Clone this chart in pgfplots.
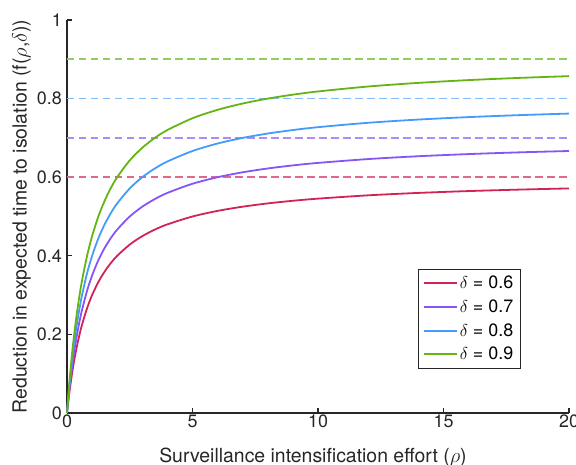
\documentclass[border=0pt]{standalone}
\usepackage{pgfplots}
\pgfplotsset{compat=1.18}
\usepackage{pgfplotstable}
\usepackage{fontspec}
\setmainfont{TeX Gyre Heros}
\definecolor{cRed}{RGB}{210,35,85}
\definecolor{cPur}{RGB}{135,85,245}
\definecolor{cBlu}{RGB}{70,155,250}
\definecolor{cGrn}{RGB}{100,180,20}
\definecolor{axgray}{RGB}{38,38,38}
\pgfplotstableread{
rho d6 d7 d8 d9
0 0 0 0 0
0.05 0.02857 0.03333 0.03810 0.04286
0.1 0.05455 0.06364 0.07273 0.08182
0.2 0.10000 0.11667 0.13333 0.15000
0.3 0.13846 0.16154 0.18462 0.20769
0.4 0.17143 0.20000 0.22857 0.25714
0.5 0.20000 0.23333 0.26667 0.30000
0.6 0.22500 0.26250 0.30000 0.33750
0.8 0.26667 0.31111 0.35556 0.40000
1 0.30000 0.35000 0.40000 0.45000
1.25 0.33333 0.38889 0.44444 0.50000
1.5 0.36000 0.42000 0.48000 0.54000
1.75 0.38182 0.44545 0.50909 0.57273
2 0.40000 0.46667 0.53333 0.60000
2.5 0.42857 0.50000 0.57143 0.64286
3 0.45000 0.52500 0.60000 0.67500
3.5 0.46667 0.54444 0.62222 0.70000
4 0.48000 0.56000 0.64000 0.72000
5 0.50000 0.58333 0.66667 0.75000
6 0.51429 0.60000 0.68571 0.77143
7 0.52500 0.61250 0.70000 0.78750
8 0.53333 0.62222 0.71111 0.80000
9 0.54000 0.63000 0.72000 0.81000
10 0.54545 0.63636 0.72727 0.81818
12 0.55385 0.64615 0.73846 0.83077
14 0.56000 0.65333 0.74667 0.84000
16 0.56471 0.65882 0.75294 0.84706
18 0.56842 0.66316 0.75789 0.85263
20 0.57143 0.66667 0.76190 0.85714
}\datatable
\begin{document}
\begin{tikzpicture}
\begin{axis}[
  scale only axis,
  width=502bp, height=393bp,
  xmin=0, xmax=20, ymin=0, ymax=1,
  axis x line=bottom, axis y line=left,
  axis line style={-, line width=1.4bp, draw=axgray},
  every tick/.style={line width=1.2bp, draw=axgray},
  tick align=inside,
  major tick length=5bp,
  xtick={0,5,10,15,20},
  ytick={0,0.2,0.4,0.6,0.8,1},
  yticklabels={0,0.2,0.4,0.6,0.8,1},
  /pgf/number format/assume math mode=true,
  tick label style={font=\fontsize{18}{21}\selectfont, text=axgray},
  xticklabel style={anchor=north, inner sep=0pt, yshift=-2bp},
  yticklabel style={anchor=east, inner sep=0pt, xshift=-5bp},
  label style={font=\fontsize{19.5}{23}\selectfont, text=axgray},
  xlabel={Surveillance intensification effort ($\rho$)},
  ylabel={Reduction in expected time to isolation (f($\rho$,$\delta$))},
  xlabel style={at={(axis description cs:0.49,-0.1247)}, anchor=base, inner sep=0pt},
  ylabel style={at={(axis description cs:-0.0717,0.5)}, anchor=south, inner sep=0pt},
  legend style={at={(axis description cs:0.904,0.112)}, anchor=south east,
    draw=axgray, line width=1bp, font=\fontsize{18}{21}\selectfont,
    inner xsep=5bp, inner ysep=5bp, row sep=5.5bp},
  legend cell align=left,
  legend image code/.code={\draw[#1] (0bp,0bp) -- (33bp,0bp);},
  clip=false,
]
\addplot[cRed!68, line width=1.8bp, dash pattern=on 7.5bp off 4.5bp, forget plot] coordinates {(0,0.6) (20,0.6)};
\addplot[cPur!68, line width=1.8bp, dash pattern=on 7.5bp off 4.5bp, forget plot] coordinates {(0,0.7) (20,0.7)};
\addplot[cBlu!68, line width=1.8bp, dash pattern=on 7.5bp off 4.5bp, forget plot] coordinates {(0,0.8) (20,0.8)};
\addplot[cGrn!68, line width=1.8bp, dash pattern=on 7.5bp off 4.5bp, forget plot] coordinates {(0,0.9) (20,0.9)};
\addplot[cRed, line width=1.8bp, smooth] table[x=rho, y=d6] {\datatable};
\addlegendentry{$\delta$ = 0.6}
\addplot[cPur, line width=1.8bp, smooth] table[x=rho, y=d7] {\datatable};
\addlegendentry{$\delta$ = 0.7}
\addplot[cBlu, line width=1.8bp, smooth] table[x=rho, y=d8] {\datatable};
\addlegendentry{$\delta$ = 0.8}
\addplot[cGrn, line width=1.8bp, smooth] table[x=rho, y=d9] {\datatable};
\addlegendentry{$\delta$ = 0.9}
\end{axis}
\pgfresetboundingbox
\path[use as bounding box] ([shift={(-67bp,-52bp)}]current axis.south west) rectangle ([shift={(7bp,20bp)}]current axis.north east);
\end{tikzpicture}
\end{document}
